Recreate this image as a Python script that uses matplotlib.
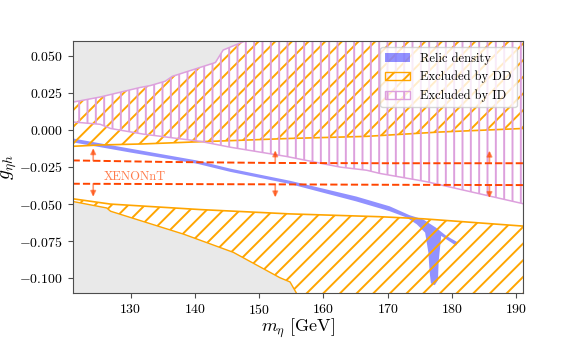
import matplotlib
matplotlib.use('Agg')
import matplotlib.pyplot as plt
import numpy as np
from matplotlib.patches import Patch

plt.rcParams['font.family'] = 'serif'
plt.rcParams['font.serif'] = ['cmr10']
plt.rcParams['mathtext.fontset'] = 'cm'
plt.rcParams['axes.formatter.use_mathtext'] = True
plt.rcParams['hatch.linewidth'] = 1.4

# upper edge of the scanned region (gray above)
x_top = [121.0, 125.3, 131.5, 133.1, 135.4, 136.5, 143.2, 144.4, 148.1, 191.0]
g_top = [0.0186, 0.0221, 0.0285, 0.0298, 0.0327, 0.0360, 0.0453, 0.0537, 0.0603, 0.0603]

# lower edge of the scanned region (gray below)
x_bot = [121.0, 126.3, 126.9, 138.3, 146.0, 153.2, 154.8, 155.8, 156.5, 191.0]
g_bot = [-0.0482, -0.0526, -0.0548, -0.0703, -0.0825, -0.0995, -0.1024, -0.1100, -0.1150, -0.1150]

# lower edge of the ID excluded region
x_id = [121.0, 125.3, 126.9, 132.0, 140.9, 145.5, 154.2, 162.6, 166.7, 168.8, 176.0, 191.0]
g_id = [0.0053, 0.0037, 0.0009, -0.0029, -0.0078, -0.0117, -0.0179, -0.0251, -0.0272, -0.0294, -0.0349, -0.0497]

# DD excluded: lower edge of upper part, upper edge of lower part
x_dd_up = [121.0, 125.3, 132.0, 140.9, 145.5, 154.8, 166.7, 178.0, 191.0]
g_dd_up = [-0.0111, -0.0102, -0.0095, -0.0080, -0.0073, -0.0058, -0.0044, -0.0015, 0.0009]
x_dd_low = [121.0, 126.9, 140.9, 154.8, 168.8, 175.5, 191.0]
g_dd_low = [-0.0464, -0.0500, -0.0537, -0.0566, -0.0585, -0.0599, -0.0648]

# relic density band outline
x_relic = [121.0, 130.0, 140.3, 145.5, 154.8, 165.1, 170.3, 173.4, 175.5, 177.5, 179.1, 180.9,
           180.6, 178.3, 177.9, 177.8, 177.3, 176.7, 176.5, 176.3, 175.8, 174.5, 172.9,
           170.3, 165.1, 154.8, 145.5, 140.3, 130.0, 121.0]
g_relic = [-0.0058, -0.0127, -0.0206, -0.0261, -0.0343, -0.0449, -0.0515, -0.0575, -0.0603, -0.0659, -0.0714, -0.0758,
           -0.0780, -0.0714, -0.0890, -0.1012, -0.1046, -0.1034, -0.0957, -0.0825, -0.0692, -0.0636, -0.0590,
           -0.0548, -0.0482, -0.0365, -0.0283, -0.0228, -0.0153, -0.0084]

# XENONnT limits
x_xen = [121.0, 135.0, 152.0, 170.0, 191.0]
g_xen_up = [-0.0206, -0.0216, -0.0223, -0.0225, -0.0225]
g_xen_low = [-0.0363, -0.0365, -0.0367, -0.0370, -0.0372]
x_arrows = [124.2, 152.5, 185.8]

c_dd = 'orange'
c_id = 'plum'
c_xen = 'orangered'
h_dd = '//'
h_id = '||'

fig = plt.figure(figsize=(5.81, 3.39), dpi=100)
ax = fig.add_axes([0.125, 0.135, 0.775, 0.745])
ax.set_facecolor('#e9e9e9')

# scanned region is white
ax.fill(np.concatenate([x_top, x_bot[::-1]]), np.concatenate([g_top, g_bot[::-1]]),
        facecolor='white', lw=0, zorder=1)

# relic band
ax.fill(x_relic, g_relic, facecolor='blue', alpha=0.43, lw=0, zorder=2)

# DD regions
ax.fill(np.concatenate([x_top, x_dd_up[::-1]]), np.concatenate([g_top, g_dd_up[::-1]]),
        facecolor='none', edgecolor=c_dd, hatch=h_dd, lw=0, zorder=3)
ax.fill(np.concatenate([x_dd_low, x_bot[::-1]]), np.concatenate([g_dd_low, g_bot[::-1]]),
        facecolor='none', edgecolor=c_dd, hatch=h_dd, lw=0, zorder=3)
ax.plot(x_dd_up, g_dd_up, color=c_dd, lw=1.2, zorder=3)
ax.plot(x_dd_low, g_dd_low, color=c_dd, lw=1.2, zorder=3)
ax.plot(x_bot, g_bot, color=c_dd, lw=1.0, zorder=3)

# ID region
ax.fill(np.concatenate([x_top, x_id[::-1]]), np.concatenate([g_top, g_id[::-1]]),
        facecolor='none', edgecolor=c_id, hatch=h_id, lw=0, zorder=4)
ax.plot(x_top, g_top, color=c_id, lw=1.1, zorder=4)
ax.plot(x_id, g_id, color=c_id, lw=1.1, zorder=4)

# XENONnT
ax.plot(x_xen, g_xen_up, color=c_xen, ls='--', lw=1.4, zorder=5)
ax.plot(x_xen, g_xen_low, color=c_xen, ls='--', lw=1.4, zorder=5)
for xa in x_arrows:
    yu = np.interp(xa, x_xen, g_xen_up)
    yl = np.interp(xa, x_xen, g_xen_low)
    ax.annotate('', xy=(xa, yu + 0.0085), xytext=(xa, yu),
                arrowprops=dict(arrowstyle='-|>', color=c_xen, alpha=0.55, lw=1.2,
                                shrinkA=0, shrinkB=0, mutation_scale=8), zorder=5)
    ax.annotate('', xy=(xa, yl - 0.0088), xytext=(xa, yl),
                arrowprops=dict(arrowstyle='-|>', color=c_xen, alpha=0.55, lw=1.2,
                                shrinkA=0, shrinkB=0, mutation_scale=8), zorder=5)
ax.text(130.6, -0.0315, 'XENONnT', color=c_xen, alpha=0.7, fontsize=9,
        ha='center', va='center', zorder=5)

ax.set_xlim(121, 191)
ax.set_ylim(-0.11, 0.06)
ax.set_xticks([130, 140, 150, 160, 170, 180, 190])
ax.set_yticks([-0.1, -0.075, -0.05, -0.025, 0.0, 0.025, 0.05])
ax.yaxis.set_major_formatter(matplotlib.ticker.FormatStrFormatter(r'$%.3f$'))
ax.tick_params(labelsize=10, color='0.3', length=3.5)
for s in ax.spines.values():
    s.set_color('0.3')
    s.set_zorder(6)

ax.set_xlabel(r'$m_\eta\ [\mathrm{GeV}]$', fontsize=13, labelpad=-0.5)
ax.set_ylabel(r'$g_{\eta h}$', fontsize=14, labelpad=0)

handles = [Patch(facecolor='blue', alpha=0.43, lw=0, label='Relic density'),
           Patch(facecolor='none', edgecolor=c_dd, hatch=h_dd, label='Excluded by DD'),
           Patch(facecolor='none', edgecolor=c_id, hatch=h_id, label='Excluded by ID')]
leg = ax.legend(handles=handles, loc='upper right', fontsize=9)
leg.set_zorder(7)

fig.savefig('out.png', dpi=100)
